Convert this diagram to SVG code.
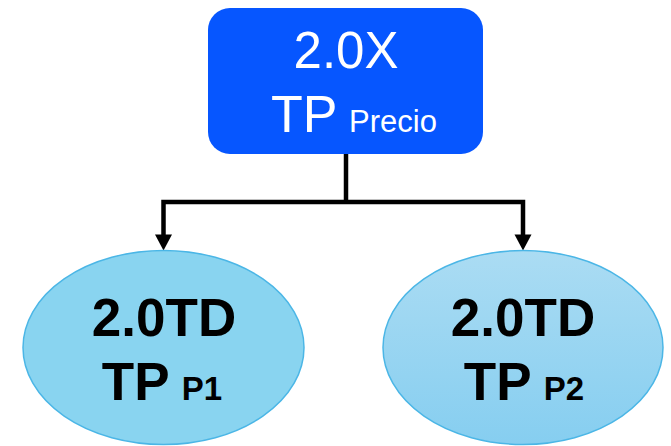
<svg xmlns="http://www.w3.org/2000/svg" width="671" height="446" viewBox="0 0 671 446">
  <style>
    .wt { font-family: "Liberation Sans", Arial, sans-serif; fill: #ffffff; text-anchor: middle; }
    .bt { font-family: "Liberation Sans", Arial, sans-serif; fill: #000000; font-weight: bold; text-anchor: middle; }
    .conn { fill: none; stroke: #000000; stroke-width: 4.5; stroke-linejoin: miter; stroke-linecap: butt; }
    .head { fill: #000000; }
    .ell { stroke: #4BB6E6; stroke-width: 1.5; }
  </style>
  <defs>
    <linearGradient id="g2" x1="0" y1="0" x2="0" y2="1">
      <stop offset="0" stop-color="#ABDCF3"/>
      <stop offset="1" stop-color="#86CEF0"/>
    </linearGradient>
  </defs>
  <g id="connectors">
    <path class="conn" d="M346,154 L346,202"/>
    <path class="conn" d="M346,202 L163.5,202 L163.5,236"/>
    <path class="conn" d="M346,202 L523,202 L523,236"/>
    <polygon class="head" points="155,234.5 172,234.5 163.5,250.5"/>
    <polygon class="head" points="514.5,234.5 531.5,234.5 523,250.5"/>
  </g>
  <g id="node-top">
    <rect x="208" y="8" width="275" height="146" rx="22" ry="22" fill="#0656FF"/>
    <text class="wt" x="346" y="68" font-size="51">2.0X</text>
    <text class="wt" x="354" y="132"><tspan font-size="52">TP</tspan><tspan font-size="31" dx="3"> Precio</tspan></text>
  </g>
  <g id="node-p1">
    <ellipse class="ell" cx="163.5" cy="347.5" rx="140.5" ry="97" fill="#89D4F0"/>
    <text class="bt" x="164" y="336" font-size="53">2.0TD</text>
    <text class="bt" x="162" y="400"><tspan font-size="53">TP</tspan><tspan font-size="33" dx="3"> P1</tspan></text>
  </g>
  <g id="node-p2">
    <ellipse class="ell" cx="523" cy="347.5" rx="140" ry="97" fill="url(#g2)"/>
    <text class="bt" x="523" y="336" font-size="53">2.0TD</text>
    <text class="bt" x="524" y="400"><tspan font-size="53">TP</tspan><tspan font-size="33" dx="3"> P2</tspan></text>
  </g>
</svg>
